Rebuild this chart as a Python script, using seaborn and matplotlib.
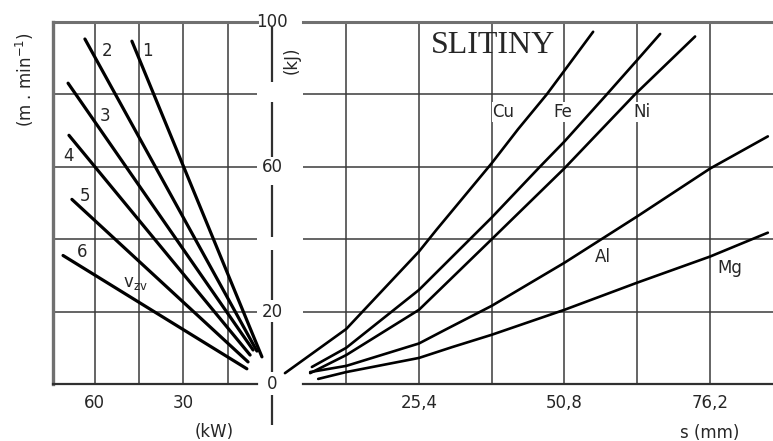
import matplotlib
matplotlib.use("Agg")
import matplotlib.pyplot as plt
import seaborn as sns
import pandas as pd

# levy diagram: rychlost v zavislosti na vykonu (kW)
cary = ['1', '2', '3', '4', '5', '6']
kw_zac = [47.4, 63.3, 69.0, 68.7, 67.7, 70.7]
kw_kon = [3.4, 5.1, 6.4, 7.4, 8.1, 8.5]
v_zac = [94.7, 95.3, 83.1, 68.7, 51.0, 35.5]
v_kon = [7.5, 9.1, 9.4, 8.0, 6.1, 4.2]

# pravy diagram: energie (kJ) v zavislosti na tloustce s (mm)
cu_s = [2.0, 12.7, 25.4, 28.5, 38.1, 42.7, 47.7, 50.8, 55.8]
cu_kj = [3.0, 15.2, 36.6, 42.7, 61.0, 70.4, 80.0, 86.6, 97.3]
fe_s = [6.7, 12.7, 25.4, 38.1, 46.5, 50.8, 57.9, 63.5, 67.5]
fe_kj = [4.7, 10.0, 26.0, 46.0, 60.0, 67.0, 79.5, 89.5, 96.7]
ni_s = [6.4, 12.7, 25.4, 38.1, 50.8, 63.1, 73.6]
ni_kj = [3.0, 8.0, 20.5, 40.0, 59.6, 80.0, 96.0]
al_s = [6.4, 12.7, 25.4, 30.0, 38.1, 50.8, 63.5, 76.2, 86.3]
al_kj = [3.3, 5.0, 11.2, 15.0, 21.6, 33.5, 46.3, 59.5, 68.4]
mg_s = [7.8, 12.7, 25.4, 31.2, 38.1, 50.8, 63.5, 76.2, 86.3]
mg_kj = [1.4, 3.3, 7.2, 10.2, 13.6, 20.5, 28.0, 35.2, 41.8]

kovy = ['Cu', 'Fe', 'Ni', 'Al', 'Mg']
kW_ticks = [60, 45, 30, 15]
kW_labels = ['60', '', '30', '']
s_ticks = [12.7, 25.4, 38.1, 50.8, 63.5, 76.2]
s_labels = ['', '25,4', '', '50,8', '', '76,2']
kj_ticks = [0, 20, 40, 60, 80, 100]
kj_labels = ['0', '20', '', '60', '', '100']

sns.set_style("white")
plt.rcParams['font.family'] = ['DejaVu Sans']

W, H = 773, 441
fig = plt.figure(figsize=(W / 100, H / 100), dpi=100)
ax_l = fig.add_axes([53 / W, 57 / H, (257 - 53) / W, 362 / H])
ax_r = fig.add_axes([303 / W, 57 / H, (W - 303) / W, 362 / H])

grid_c = '#3a3a3a'
frame_c = '#707070'
for ax in (ax_l, ax_r):
    ax.set_ylim(0, 100)
    ax.set_yticks([20, 40, 60, 80])
    ax.set_yticklabels([])
    ax.tick_params(length=0, labelsize=12, pad=7)
    ax.grid(True, color=grid_c, linewidth=1.1)
    ax.set_axisbelow(True)
    ax.spines['right'].set_visible(False)
    ax.spines['top'].set_linewidth(2.2)
    ax.spines['top'].set_color(frame_c)
    ax.spines['bottom'].set_linewidth(1.6)
    ax.spines['bottom'].set_color('#303030')

ax_l.spines['left'].set_linewidth(2.4)
ax_l.spines['left'].set_color(frame_c)
ax_r.spines['left'].set_visible(False)

ax_l.set_xlim(74.1, 5.07)
ax_l.set_xticks(kW_ticks)
ax_l.set_xticklabels(kW_labels)
ax_r.set_xlim(5.15, 87.2)
ax_r.set_xticks(s_ticks)
ax_r.set_xticklabels(s_labels)

# leve primky
df_l = pd.DataFrame({
    'kW': kw_zac + kw_kon,
    'v': v_zac + v_kon,
    'cara': cary + cary,
})
sns.lineplot(data=df_l, x='kW', y='v', units='cara', estimator=None,
             color='black', linewidth=2.3, ax=ax_l, clip_on=False)

# prave krivky
df_r = pd.concat([
    pd.DataFrame({'s': cu_s, 'kJ': cu_kj, 'kov': 'Cu'}),
    pd.DataFrame({'s': fe_s, 'kJ': fe_kj, 'kov': 'Fe'}),
    pd.DataFrame({'s': ni_s, 'kJ': ni_kj, 'kov': 'Ni'}),
    pd.DataFrame({'s': al_s, 'kJ': al_kj, 'kov': 'Al'}),
    pd.DataFrame({'s': mg_s, 'kJ': mg_kj, 'kov': 'Mg'}),
])
sns.lineplot(data=df_r, x='s', y='kJ', units='kov', estimator=None,
             color='black', linewidth=1.9, ax=ax_r, clip_on=False)

for ax in (ax_l, ax_r):
    ax.set_xlabel('')
    ax.set_ylabel('')

# popisky car
lab_l = [(42.3, 92.0), (55.8, 92.0), (56.5, 74.0), (69.0, 62.9), (63.3, 51.8), (64.3, 36.6)]
for c, (x, y) in zip(cary, lab_l):
    ax_l.text(x, y, c, fontsize=12, ha='center', va='center')
ax_l.text(46.3, 28.0, r'$\mathregular{v_{zv}}$', fontsize=12, ha='center', va='center')

lab_r = [(40.1, 75.1), (50.5, 75.1), (64.3, 75.1), (57.5, 35.2), (79.7, 32.1)]
for k, (x, y) in zip(kovy, lab_r):
    ax_r.text(x, y, k, fontsize=12, ha='center', va='center',
              bbox=dict(facecolor='white', edgecolor='none', pad=0.5))
ax_r.text(38.3, 93.4, 'SLITINY', fontsize=23, family='Liberation Serif',
          ha='center', va='center')

# stredni osa (kJ)
seg_lo = [83.4, 62.6, 40.7, 23.3, 3.3, -11.4]
seg_hi = [98.6, 77.8, 55.1, 37.1, 17.2, -3.0]
ax_l.vlines([0] * len(seg_lo), seg_lo, seg_hi, color='#303030', linewidth=1.6, clip_on=False)
for t, lab in zip(kj_ticks, kj_labels):
    if lab:
        ax_l.text(0, t, lab, fontsize=12, ha='center', va='center')

fig.text(292 / W, 1 - 60 / H, '(kJ)', rotation=90, fontsize=12, ha='center', va='center')
fig.text(25 / W, 1 - 80 / H, r'(m . min$^{-1}$)', rotation=90, fontsize=12,
         ha='center', va='center')
fig.text(214 / W, 1 - 432 / H, '(kW)', fontsize=12, ha='center', va='center')
fig.text(710 / W, 1 - 433 / H, 's (mm)', fontsize=12, ha='center', va='center')

fig.savefig('out.png', dpi=100)
